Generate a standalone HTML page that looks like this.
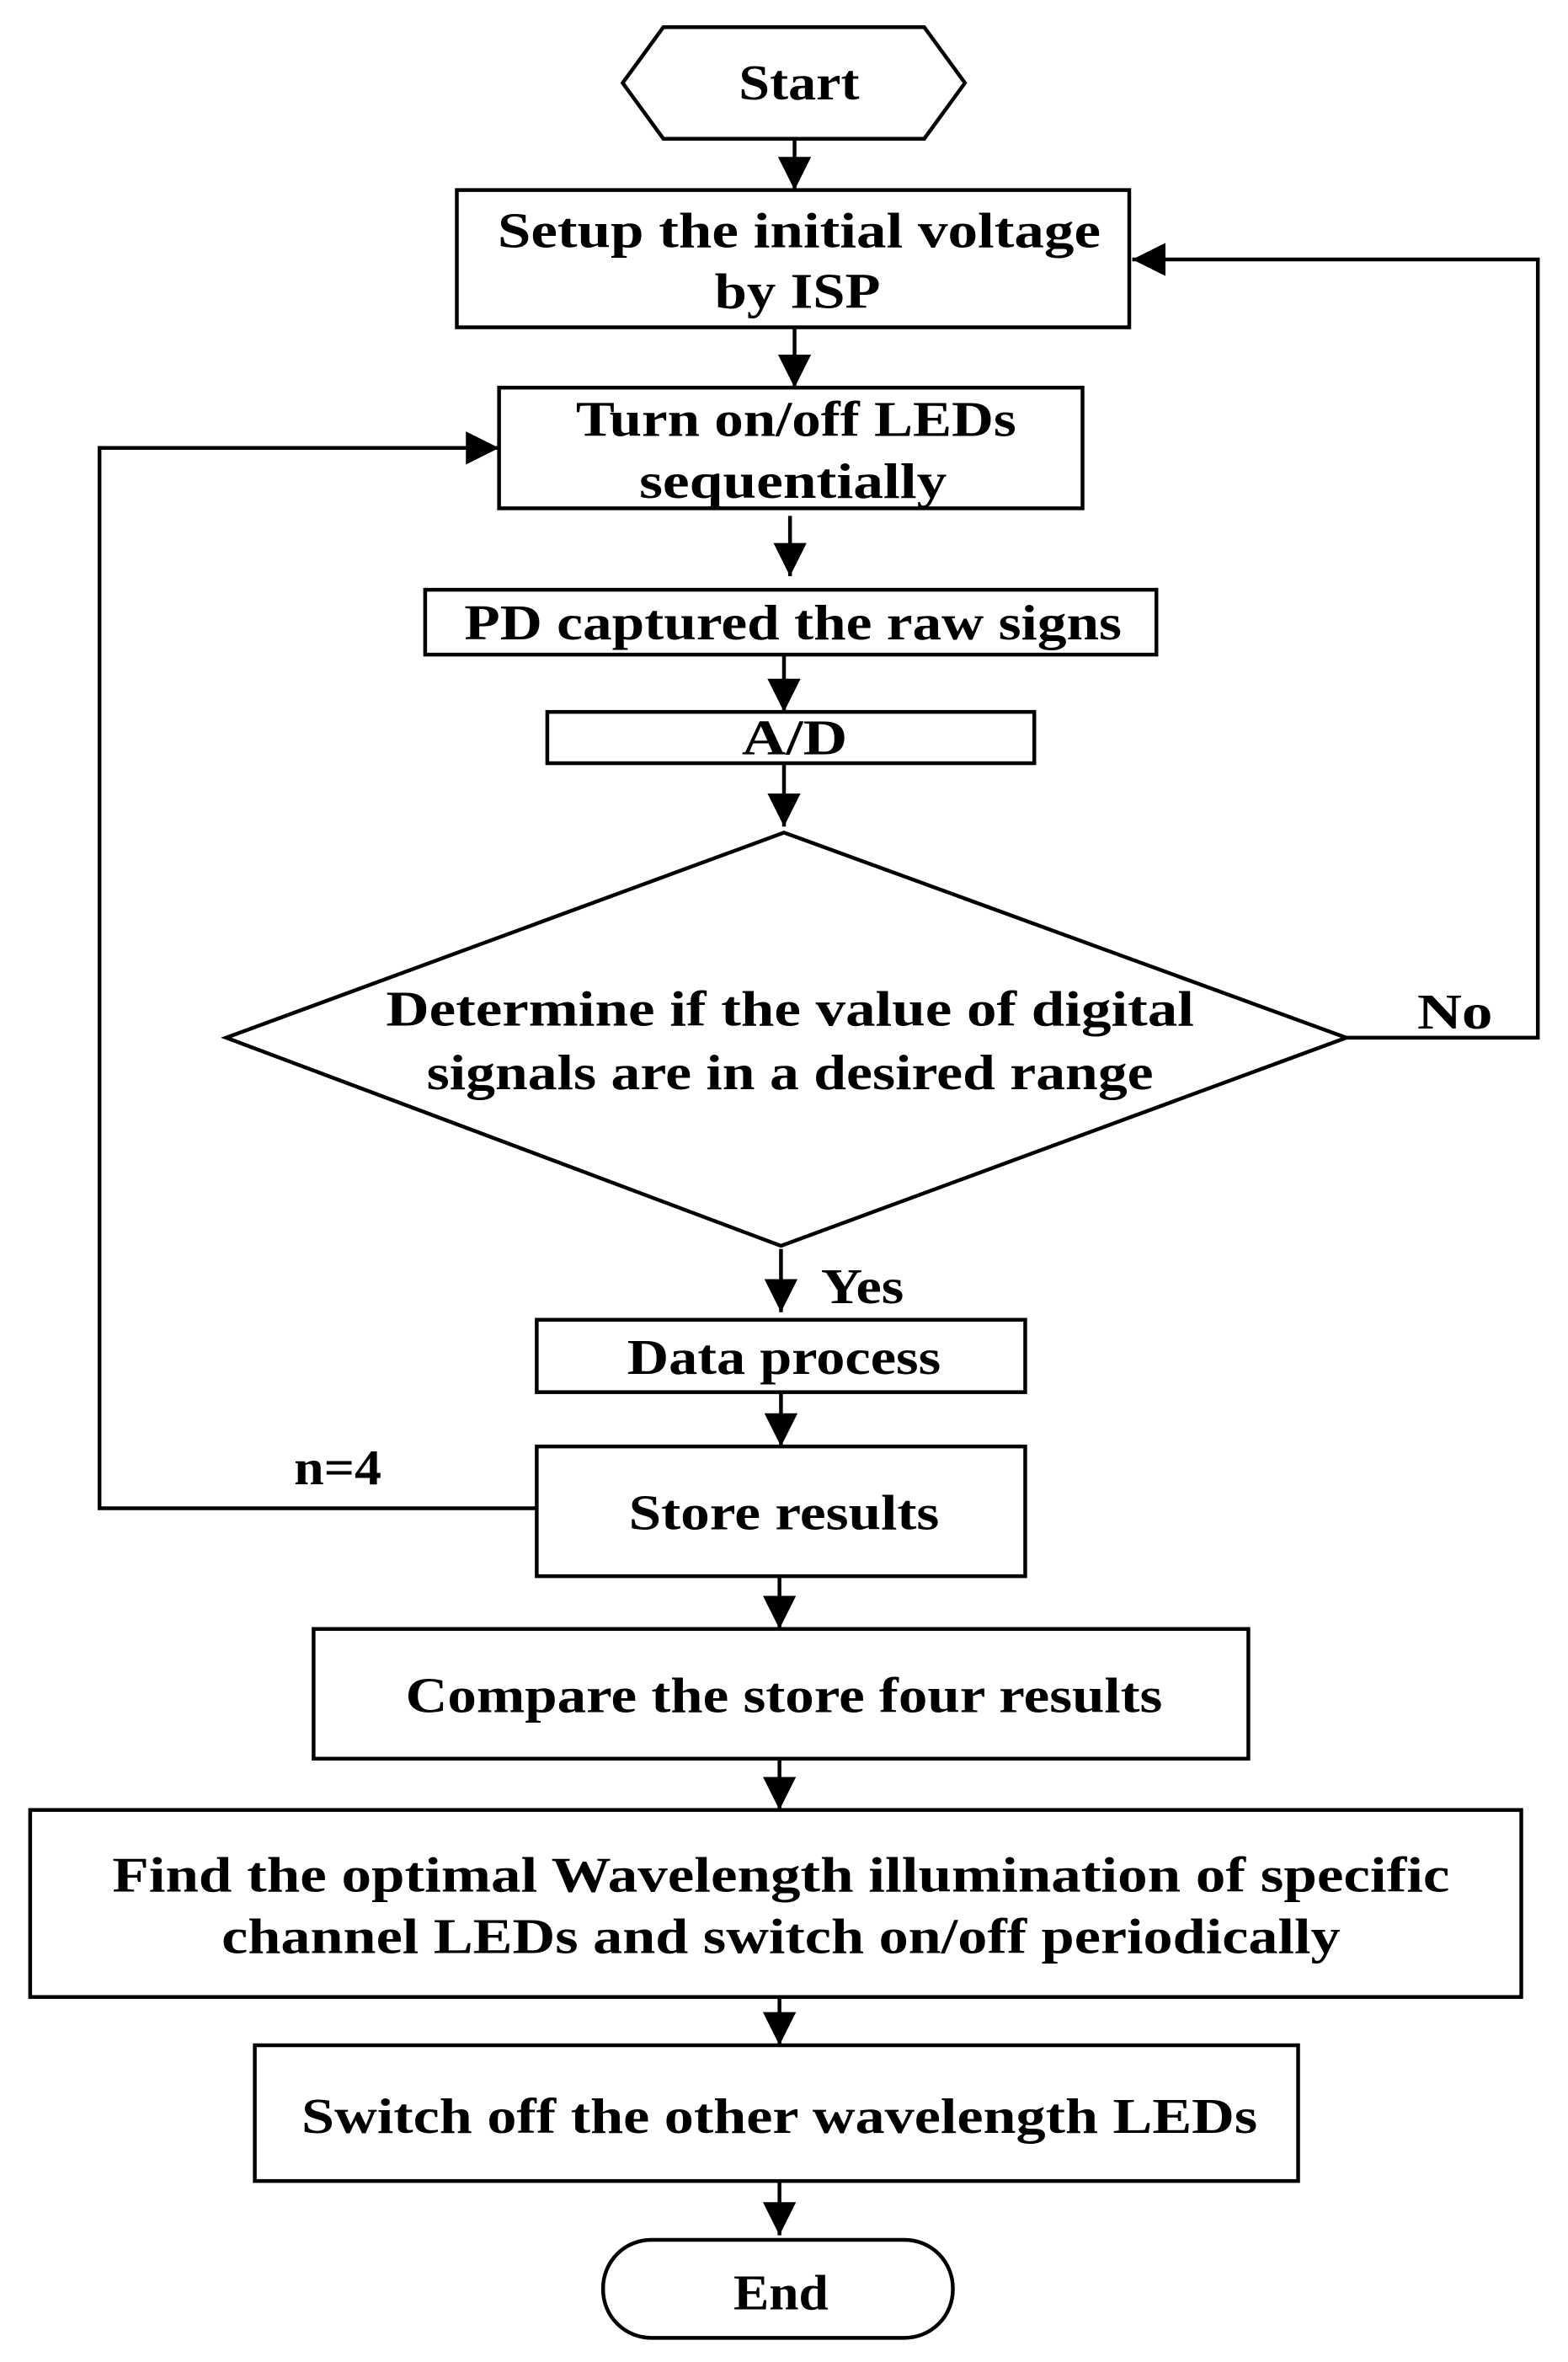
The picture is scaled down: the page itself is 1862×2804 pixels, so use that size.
<!DOCTYPE html>
<html><head><meta charset="utf-8"><style>html,body{margin:0;padding:0;background:#fff}svg{display:block}</style></head>
<body>
<svg width="1862" height="2804" viewBox="0 0 1040 1566" preserveAspectRatio="none" xmlns="http://www.w3.org/2000/svg">
<defs>
<marker id="b" viewBox="0 0 10 10" markerWidth="22" markerHeight="22" refX="10" refY="5" orient="auto" markerUnits="userSpaceOnUse"><path d="M0,0 L10,5 L0,10 Z" fill="#000"/></marker></defs>
<g fill="none" stroke="#000" stroke-width="2.5">
<polygon points="413,55 440,18 613,18 640,55 613,92 440,92"/>
<rect x="303" y="126" width="446" height="91"/>
<rect x="331" y="257" width="387" height="80"/>
<rect x="282" y="391" width="485" height="43"/>
<rect x="363" y="472" width="323" height="34"/>
<polygon points="520,552 893,688 518,826 150,688"/>
<rect x="356" y="875" width="324" height="48"/>
<rect x="356" y="959" width="324" height="86"/>
<rect x="208" y="1080" width="620" height="86"/>
<rect x="20" y="1200" width="989" height="124"/>
<rect x="169" y="1356" width="692" height="90"/>
<rect x="400" y="1485" width="232" height="65" rx="32"/>
<g marker-end="url(#b)">
<line x1="527" y1="92" x2="527" y2="126"/>
<line x1="527" y1="217" x2="527" y2="257"/>
<line x1="524" y1="342" x2="524" y2="382"/>
<line x1="520" y1="434" x2="520" y2="472"/>
<line x1="520" y1="506" x2="520" y2="548"/>
<line x1="518" y1="828" x2="518" y2="870"/>
<line x1="518" y1="923" x2="518" y2="959"/>
<line x1="517" y1="1045" x2="517" y2="1080"/>
<line x1="517" y1="1166" x2="517" y2="1200"/>
<line x1="517" y1="1324" x2="517" y2="1356"/>
<line x1="517" y1="1446" x2="517" y2="1482"/>
<polyline points="893,688 1020,688 1020,172 751,172"/>
<polyline points="356,1000 66,1000 66,297 331,297"/>
</g>
</g>
<g font-family="'Liberation Serif',serif" font-weight="bold" font-size="33" text-anchor="middle" fill="#000" lengthAdjust="spacingAndGlyphs">
<text x="530" y="66" textLength="80" lengthAdjust="spacingAndGlyphs">Start</text>
<text x="530" y="164" textLength="400" lengthAdjust="spacingAndGlyphs">Setup the initial voltage</text>
<text x="529" y="204" textLength="110" lengthAdjust="spacingAndGlyphs">by ISP</text>
<text x="528" y="289" textLength="292" lengthAdjust="spacingAndGlyphs">Turn on/off LEDs</text>
<text x="526" y="330" textLength="204" lengthAdjust="spacingAndGlyphs">sequentially</text>
<text x="526" y="424" textLength="436" lengthAdjust="spacingAndGlyphs">PD captured the raw signs</text>
<text x="527" y="500" textLength="70" lengthAdjust="spacingAndGlyphs">A/D</text>
<text x="524" y="680" textLength="536" lengthAdjust="spacingAndGlyphs">Determine if the value of digital</text>
<text x="524" y="722" textLength="482" lengthAdjust="spacingAndGlyphs">signals are in a desired range</text>
<text x="965" y="682" textLength="50" lengthAdjust="spacingAndGlyphs">No</text>
<text x="572" y="864" textLength="55" lengthAdjust="spacingAndGlyphs">Yes</text>
<text x="520" y="911" textLength="208" lengthAdjust="spacingAndGlyphs">Data process</text>
<text x="224" y="984" textLength="58" lengthAdjust="spacingAndGlyphs">n=4</text>
<text x="520" y="1014" textLength="206" lengthAdjust="spacingAndGlyphs">Store results</text>
<text x="520" y="1135" textLength="502" lengthAdjust="spacingAndGlyphs">Compare the store four results</text>
<text x="518" y="1254" textLength="887" lengthAdjust="spacingAndGlyphs">Find the optimal Wavelength illumination of specific</text>
<text x="518" y="1295" textLength="742" lengthAdjust="spacingAndGlyphs">channel LEDs and switch on/off periodically</text>
<text x="517" y="1414" textLength="634" lengthAdjust="spacingAndGlyphs">Switch off the other wavelength LEDs</text>
<text x="518" y="1531" textLength="63" lengthAdjust="spacingAndGlyphs">End</text>
</g>
</svg>
</body></html>
